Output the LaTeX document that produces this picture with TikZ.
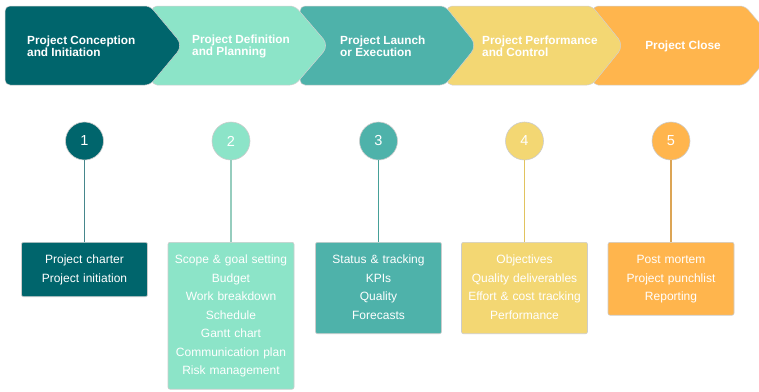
\documentclass[tikz,border=0pt]{standalone}
\usepackage{fontspec}
\setmainfont{Liberation Sans}
\definecolor{c1}{RGB}{0,101,108}
\definecolor{c2}{RGB}{140,228,200}
\definecolor{c3}{RGB}{78,178,170}
\definecolor{c4}{RGB}{243,215,115}
\definecolor{c5}{RGB}{255,181,77}
\definecolor{l1}{RGB}{70,135,140}
\definecolor{l2}{RGB}{150,205,190}
\definecolor{l3}{RGB}{70,160,152}
\definecolor{l4}{RGB}{225,195,95}
\definecolor{l5}{RGB}{220,165,85}
\begin{document}
\begin{tikzpicture}[x=1pt,y=-1pt,
  chev/.style={draw=black!18, line width=0.5pt, rounded corners=5pt},
  chevtext/.style={text=white, font=\fontsize{11.8}{12}\selectfont\bfseries, align=left, inner sep=0pt},
  num/.style={circle, minimum size=38pt, inner sep=0pt, draw=black!20, line width=0.6pt, text=white, font=\fontsize{14.5}{14.5}\selectfont},
  box/.style={draw=black!20, line width=0.6pt, rounded corners=2pt, text=white, text width=126pt, inner xsep=0pt, inner ysep=8.7pt, align=center, anchor=north, font=\fontsize{12}{18.5}\selectfont},
  link/.style={line width=1.6pt}]
\useasboundingbox (0,0) rectangle (759,391);
\clip (0,0) rectangle (759,391);
\fill[white] (0,0) rectangle (759,391);
% chevrons, drawn right to left so each one lies over the next
\draw[chev, fill=c5] (593,6) -- (745,6) [rounded corners=9pt] -- (778.5,45.5) [rounded corners=5pt] -- (745,85) -- (593,85) -- cycle;
\draw[chev, fill=c4] (447,6) -- (592,6) [rounded corners=9pt] -- (624,45.5) [rounded corners=5pt] -- (592,85) -- (447,85) -- cycle;
\draw[chev, fill=c3] (300,6) -- (445,6) [rounded corners=9pt] -- (477,45.5) [rounded corners=5pt] -- (445,85) -- (300,85) -- cycle;
\draw[chev, fill=c2] (152,6) -- (295,6) [rounded corners=9pt] -- (329,45.5) [rounded corners=5pt] -- (295,85) -- (152,85) -- cycle;
\draw[chev, fill=c1] (5,6) -- (150,6) [rounded corners=9pt] -- (183,45.5) [rounded corners=5pt] -- (150,85) -- (5,85) -- cycle;
\node[chevtext, anchor=west] (t1) at (27,46.5) {Project Conception\\and Initiation};
\node[chevtext, anchor=west] (t2) at (192,46.5) {Project Definition\\and Planning};
\node[chevtext, anchor=west] (t3) at (340,46.5) {Project Launch\\or Execution};
\node[chevtext, anchor=west] (t4) at (482,46.5) {Project Performance\\and Control};
\node[chevtext] (t5) at (683,46) {Project Close};
% numbered circles
\node[num, fill=c1] (n1) at (84.5,141) {1};
\node[num, fill=c2] (n2) at (231,141) {2};
\node[num, fill=c3] (n3) at (378.5,141) {3};
\node[num, fill=c4] (n4) at (524.5,141) {4};
\node[num, fill=c5] (n5) at (671,141) {5};
% boxes
\node[box, fill=c1] (b1) at (84.5,242) {\strut Project charter\\\strut Project initiation};
\node[box, fill=c2] (b2) at (231,242) {\strut Scope \& goal setting\\Budget\\Work breakdown\\Schedule\\Gantt chart\\Communication plan\\\strut Risk management};
\node[box, fill=c3] (b3) at (378.5,242) {\strut Status \& tracking\\KPIs\\Quality\\\strut Forecasts};
\node[box, fill=c4] (b4) at (524.5,242) {\strut Objectives\\Quality deliverables\\Effort \& cost tracking\\\strut Performance};
\node[box, fill=c5] (b5) at (671,242) {\strut Post mortem\\Project punchlist\\\strut Reporting};
% connectors
\draw[link, l1] (n1.south) -- (b1.north);
\draw[link, l2] (n2.south) -- (b2.north);
\draw[link, l3] (n3.south) -- (b3.north);
\draw[link, l4] (n4.south) -- (b4.north);
\draw[link, l5] (n5.south) -- (b5.north);
\end{tikzpicture}
\end{document}
